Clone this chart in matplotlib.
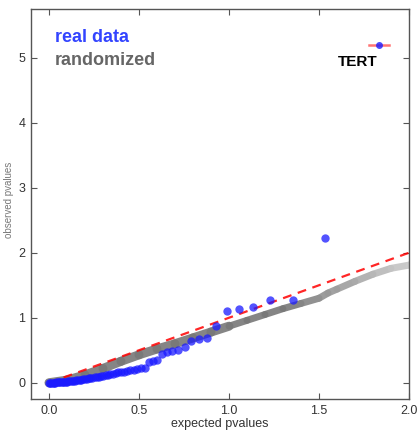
import numpy as np
import matplotlib
matplotlib.use("Agg")
import matplotlib.pyplot as plt
from matplotlib.collections import LineCollection

plt.rcParams['font.family'] = ['Liberation Sans', 'DejaVu Sans']

# real data: expected vs observed (-log10 p)
expected = [1.531, 1.355, 1.230, 1.134, 1.054, 0.987, 0.929, 0.878, 0.833, 0.791,
            0.753, 0.719, 0.686, 0.656, 0.628, 0.602, 0.577, 0.554, 0.531, 0.510,
            0.490, 0.471, 0.452, 0.435, 0.418, 0.401, 0.385, 0.370, 0.356, 0.341,
            0.327, 0.314, 0.301, 0.288, 0.276, 0.264, 0.253, 0.241, 0.230, 0.220,
            0.209, 0.199, 0.189, 0.179, 0.170, 0.160, 0.151, 0.142, 0.134, 0.125,
            0.117, 0.108, 0.100, 0.092, 0.085, 0.077, 0.070, 0.062, 0.055, 0.048,
            0.041, 0.033, 0.027, 0.020, 0.013, 0.006, 0.000]
observed = [2.22, 1.28, 1.28, 1.17, 1.13, 1.10, 0.88, 0.69, 0.68, 0.64,
            0.55, 0.50, 0.49, 0.47, 0.44, 0.35, 0.34, 0.32, 0.23, 0.22,
            0.21, 0.20, 0.19, 0.18, 0.17, 0.165, 0.16, 0.15, 0.14, 0.13,
            0.12, 0.115, 0.11, 0.10, 0.095, 0.09, 0.085, 0.08, 0.075, 0.07,
            0.065, 0.06, 0.055, 0.05, 0.045, 0.04, 0.035, 0.032, 0.03, 0.027,
            0.024, 0.02, 0.018, 0.015, 0.013, 0.011, 0.01, 0.008, 0.006, 0.005,
            0.004, 0.003, 0.002, 0.001, 0.001, 0.0, 0.0]

# top hit
tert_x = 1.833
tert_y = 5.2

# randomized curve
rand_x = [0.0, 0.1, 0.2, 0.3, 0.4, 0.5, 0.6, 0.7, 0.8, 0.9, 1.0,
          1.1, 1.2, 1.3, 1.4, 1.5, 1.55, 1.6, 1.7, 1.8, 1.9, 2.0, 2.1]
rand_y = [0.0, 0.04, 0.12, 0.22, 0.33, 0.43, 0.52, 0.60, 0.69, 0.78, 0.87,
          0.96, 1.05, 1.14, 1.22, 1.30, 1.38, 1.44, 1.56, 1.67, 1.76, 1.81, 1.84]

fig = plt.figure(figsize=(4.17, 4.32), dpi=100)
ax = fig.add_axes([31 / 417, 1 - 399 / 432, 378 / 417, 390 / 432])

# randomized band, fading where the permutations thin out
pts = np.column_stack([rand_x, rand_y])
segs = np.stack([pts[:-1], pts[1:]], axis=1)
cols = []
widths = []
for x0 in rand_x[:-1]:
    g = 0.47 if x0 < 1.3 else min(0.47 + (x0 - 1.3) * 0.5, 0.8)
    cols.append((g, g, g, 0.9))
    widths.append(6.5 if x0 < 1.0 else 5.0)
lc = LineCollection(segs, colors=cols, linewidths=widths, capstyle='round', joinstyle='round')
ax.add_collection(lc)

# diagonal
ax.plot([0, 2.1], [0, 2.1], '--', color='red', lw=1.6, alpha=0.85, dashes=(4, 3))

# real data
ax.plot(expected, observed, 'o', color='#1a1aff', alpha=0.75, ms=6, mec='none')
ax.plot([tert_x - 0.055, tert_x + 0.055], [tert_y, tert_y], color='red', lw=1.8, alpha=0.55)
ax.plot([tert_x], [tert_y], 'o', color='#1a1aff', alpha=0.8, ms=5, mec='none')
ax.text(tert_x - 0.12, tert_y - 0.27, 'TERT', fontsize=11, fontweight='bold',
        ha='center', va='center', color='black')

ax.text(0.063, 0.928, 'real data', transform=ax.transAxes, fontsize=13,
        fontweight='bold', color='#3344ff', ha='left', va='center')
ax.text(0.063, 0.867, 'randomized', transform=ax.transAxes, fontsize=13,
        fontweight='bold', color='#666666', ha='left', va='center')

ax.set_xlim(-0.1, 2.0)
ax.set_ylim(-0.25, 5.75)
ax.set_xticks([0.0, 0.5, 1.0, 1.5, 2.0])
ax.set_yticks([0, 1, 2, 3, 4, 5])
ax.tick_params(direction='in', top=True, right=True, length=4, width=0.8,
               labelsize=9, labelcolor='#333333', color='#555555', pad=4)
for s in ax.spines.values():
    s.set_color('#555555')
    s.set_linewidth(1.0)

ax.set_xlabel('expected pvalues', fontsize=9, color='#333333', labelpad=1)
ax.set_ylabel('observed pvalues', fontsize=7, color='#777777')
ax.yaxis.set_label_coords(-0.046, 0.51)

fig.savefig('out.png', dpi=100)
